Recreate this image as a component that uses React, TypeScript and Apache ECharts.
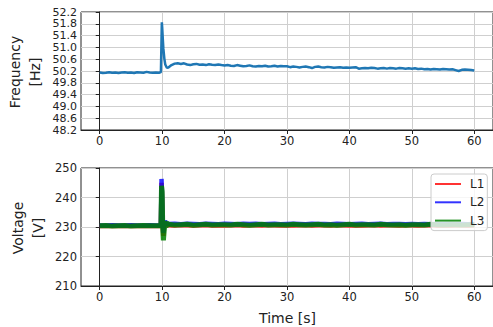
import React, { useEffect, useRef } from "react";
import * as echarts from "echarts";

const xTicks = [0, 10, 20, 30, 40, 50, 60];

const freqTimes = [
  0, 0.5, 1, 1.5, 2, 2.5, 3, 3.5, 4, 4.5, 5, 5.5, 6, 6.5, 7, 7.5, 8, 8.5, 9, 9.5,
  9.8, 9.95, 10, 10.1, 10.2, 10.35, 10.5, 10.75,
  11, 11.5, 12, 12.5, 13, 13.5, 14, 14.5, 15, 15.5, 16, 16.5, 17, 17.5, 18, 18.5, 19, 19.5,
  20, 20.5, 21, 21.5, 22, 22.5, 23, 23.5, 24, 24.5, 25, 25.5, 26, 26.5, 27, 27.5, 28, 28.5, 29, 29.5,
  30, 30.5, 31, 31.5, 32, 32.5, 33, 33.5, 34, 34.5, 35, 35.5, 36, 36.5, 37, 37.5, 38, 38.5, 39, 39.5,
  40, 40.5, 41, 41.5, 42, 42.5, 43, 43.5, 44, 44.5, 45, 45.5, 46, 46.5, 47, 47.5, 48, 48.5, 49, 49.5,
  50, 50.5, 51, 51.5, 52, 52.5, 53, 53.5, 54, 54.5, 55, 55.5, 56, 56.5, 57, 57.5, 58, 58.5, 59, 59.5,
  60,
];

const frequency = [
  50.15, 50.13, 50.14, 50.16, 50.14, 50.15, 50.13, 50.15, 50.16, 50.14,
  50.15, 50.13, 50.16, 50.15, 50.14, 50.17, 50.15, 50.14, 50.15, 50.14,
  50.16, 51.85, 51.7, 51.3, 50.95, 50.62, 50.42, 50.31,
  50.32, 50.40, 50.45, 50.46, 50.44, 50.46, 50.42, 50.40, 50.43, 50.44,
  50.41, 50.42, 50.40, 50.43, 50.41, 50.40, 50.42, 50.40,
  50.39, 50.40, 50.38, 50.37, 50.40, 50.38, 50.36, 50.37, 50.39, 50.36,
  50.35, 50.37, 50.36, 50.38, 50.35, 50.36, 50.38, 50.35, 50.37, 50.36,
  50.36, 50.33, 50.35, 50.34, 50.32, 50.34, 50.35, 50.33, 50.30, 50.34,
  50.35, 50.33, 50.32, 50.34, 50.33, 50.31, 50.32, 50.33, 50.31, 50.32,
  50.31, 50.32, 50.33, 50.28, 50.29, 50.30, 50.29, 50.31, 50.30, 50.28,
  50.29, 50.30, 50.28, 50.30, 50.29, 50.28, 50.30, 50.29, 50.28, 50.29,
  50.28, 50.29, 50.27, 50.28, 50.26, 50.27, 50.25, 50.27, 50.26, 50.25,
  50.27, 50.26, 50.25, 50.26, 50.23, 50.20, 50.24, 50.25, 50.24, 50.23,
  50.22,
];

const voltTimes = [
  0, 1, 2, 3, 4, 5, 6, 7, 8, 9,
  9.8, 9.9, 10.0, 10.1, 10.2, 10.3, 10.45, 10.6, 10.75,
  11, 12, 13, 14, 15, 16, 17, 18, 19, 20,
  21, 22, 23, 24, 25, 26, 27, 28, 29, 30,
  31, 32, 33, 34, 35, 36, 37, 38, 39, 40,
  41, 42, 43, 44, 45, 46, 47, 48, 49, 50,
  51, 52, 53, 54, 55, 56, 57, 58, 59, 60,
];

const voltL1 = [
  230.3, 230.3, 230.4, 230.3, 230.3, 230.4, 230.3, 230.3, 230.4, 230.3,
  230.3, 245.0, 239.0, 230.0, 227.0, 229.5, 231.8, 230.6, 230.9,
  230.6, 230.5, 230.7, 230.6, 230.5, 230.6, 230.7, 230.5, 230.6, 230.5,
  230.6, 230.7, 230.5, 230.6, 230.6, 230.5, 230.7, 230.6, 230.5, 230.6,
  230.5, 230.6, 230.7, 230.5, 230.6, 230.6, 230.5, 230.7, 230.6, 230.5,
  230.6, 230.5, 230.6, 230.7, 230.5, 230.6, 230.6, 230.5, 230.6, 230.6,
  230.5, 230.6, 230.7, 230.5, 230.6, 230.5, 230.6, 230.6, 230.5, 230.6,
];

const voltL2 = [
  230.5, 230.5, 230.6, 230.5, 230.5, 230.6, 230.5, 230.5, 230.6, 230.5,
  230.6, 246.3, 240.0, 231.0, 228.0, 230.0, 232.2, 231.0, 231.2,
  231.0, 231.1, 230.9, 231.1, 231.0, 230.9, 231.1, 231.0, 230.9, 231.1,
  231.0, 230.9, 231.1, 231.0, 231.1, 230.9, 231.0, 231.1, 230.9, 231.0,
  231.1, 231.0, 230.9, 231.1, 231.0, 231.0, 230.9, 231.1, 231.0, 230.9,
  231.0, 231.1, 230.9, 231.0, 231.1, 230.9, 231.0, 231.0, 230.9, 231.0,
  230.9, 231.0, 230.9, 231.0, 230.9, 231.0, 230.9, 231.0, 230.9, 231.0,
];

const voltL3 = [
  230.4, 230.5, 230.3, 230.4, 230.5, 230.3, 230.4, 230.5, 230.4, 230.4,
  230.4, 244.0, 242.0, 229.0, 225.5, 228.0, 232.0, 229.8, 231.4,
  230.9, 230.7, 230.8, 230.9, 230.6, 230.8, 230.9, 230.7, 230.8, 230.8,
  230.7, 230.9, 230.8, 230.6, 230.8, 230.9, 230.7, 230.8, 230.8, 230.7,
  230.9, 230.8, 230.7, 230.8, 230.9, 230.7, 230.8, 230.6, 230.8, 230.9,
  230.7, 230.8, 230.8, 230.7, 230.9, 230.8, 230.7, 230.8, 230.6, 230.8,
  230.8, 230.7, 230.9, 230.8, 230.7, 230.8, 230.8, 230.7, 230.8, 230.8,
];

const phaseNames = ["L1", "L2", "L3"];
const phaseColors = ["rgba(255,0,0,0.8)", "rgba(0,0,255,0.8)", "rgba(0,128,0,0.85)"];
const phaseWidths = [4.5, 4.5, 5];

const FONT = "DejaVu Sans";
const INK = "#222";

function pairs(t: number[], v: number[]) {
  return t.map((x, i) => [x, v[i]]);
}

function xAxisCfg(gridIndex: number) {
  return {
    type: "value",
    gridIndex,
    min: -3,
    max: 63,
    axisLine: { show: true, lineStyle: { color: INK, width: 1 } },
    axisTick: { show: true, length: 4, lineStyle: { color: INK }, customValues: xTicks },
    axisLabel: {
      show: true,
      customValues: xTicks,
      fontSize: 11.5,
      fontFamily: FONT,
      color: INK,
      margin: 5,
    },
    splitLine: { show: true, lineStyle: { color: "#cfcfcf", width: 1 } },
  };
}

export default function App() {
  const ref = useRef<HTMLDivElement>(null);
  useEffect(() => {
    if (!ref.current) return;
    const chart = echarts.init(ref.current, null, { renderer: "svg" });
    const volts = [voltL1, voltL2, voltL3];
    chart.setOption({
      animation: false,
      backgroundColor: "#fff",
      grid: [
        { left: 81, top: 12, width: 413, height: 118, show: true, borderColor: INK, borderWidth: 1 },
        { left: 81, top: 168, width: 413, height: 118, show: true, borderColor: INK, borderWidth: 1 },
      ],
      xAxis: [xAxisCfg(0), xAxisCfg(1)],
      yAxis: [
        {
          type: "value",
          gridIndex: 0,
          min: 48.2,
          max: 52.2,
          interval: 0.4,
          axisLine: { show: true, lineStyle: { color: INK } },
          axisTick: { show: true, length: 4, lineStyle: { color: INK }, interval: 0 },
          axisLabel: {
            interval: 0,
            fontSize: 11,
            lineHeight: 11,
            fontFamily: FONT,
            color: INK,
            margin: 4,
            showMinLabel: true,
            showMaxLabel: true,
            hideOverlap: false,
            formatter: (v: number) => v.toFixed(1),
          },
          splitLine: { show: true, interval: 0, lineStyle: { color: "#cfcfcf", width: 1 } },
        },
        {
          type: "value",
          gridIndex: 1,
          min: 210,
          max: 250,
          interval: 10,
          axisLine: { show: true, lineStyle: { color: INK } },
          axisTick: { show: true, length: 4, lineStyle: { color: INK } },
          axisLabel: { fontSize: 11.5, fontFamily: FONT, color: INK, margin: 4 },
          splitLine: { show: true, lineStyle: { color: "#cfcfcf", width: 1 } },
        },
      ],
      legend: {
        data: phaseNames,
        orient: "vertical",
        left: 431,
        top: 174,
        itemWidth: 26,
        itemHeight: 2,
        icon: "rect",
        itemGap: 4.3,
        padding: [3, 3, 3, 4],
        backgroundColor: "rgba(255,255,255,0.8)",
        borderColor: "#cccccc",
        borderWidth: 1,
        borderRadius: 3,
        textStyle: { fontSize: 12, fontFamily: FONT, color: INK, lineHeight: 14, padding: [0, 0, 0, 4] },
      },
      series: [
        {
          type: "line",
          name: "Frequency",
          xAxisIndex: 0,
          yAxisIndex: 0,
          data: pairs(freqTimes, frequency),
          showSymbol: false,
          lineStyle: { color: "#1f77b4", width: 2.5 },
          itemStyle: { color: "#1f77b4" },
        },
        ...phaseNames.map((n, i) => ({
          type: "line",
          name: n,
          xAxisIndex: 1,
          yAxisIndex: 1,
          data: pairs(voltTimes, volts[i]),
          showSymbol: false,
          lineStyle: { color: phaseColors[i], width: phaseWidths[i] },
          itemStyle: { color: phaseColors[i] },
        })),
      ],
      graphic: [
        {
          type: "text",
          x: 25,
          y: 72,
          rotation: Math.PI / 2,
          style: {
            text: "Frequency\n[Hz]",
            fontSize: 14,
            fontFamily: FONT,
            fill: INK,
            align: "center",
            verticalAlign: "middle",
            lineHeight: 20,
          },
        },
        {
          type: "text",
          x: 27.5,
          y: 228,
          rotation: Math.PI / 2,
          style: {
            text: "Voltage\n[V]",
            fontSize: 14,
            fontFamily: FONT,
            fill: INK,
            align: "center",
            verticalAlign: "middle",
            lineHeight: 20,
          },
        },
        {
          type: "text",
          x: 287.5,
          y: 318,
          style: {
            text: "Time [s]",
            fontSize: 14,
            fontFamily: FONT,
            fill: INK,
            align: "center",
            verticalAlign: "middle",
          },
        },
      ],
    });
    return () => chart.dispose();
  }, []);
  return <div ref={ref} style={{ width: 493, height: 327, position: "absolute", left: 0, top: 0 }} />;
}
